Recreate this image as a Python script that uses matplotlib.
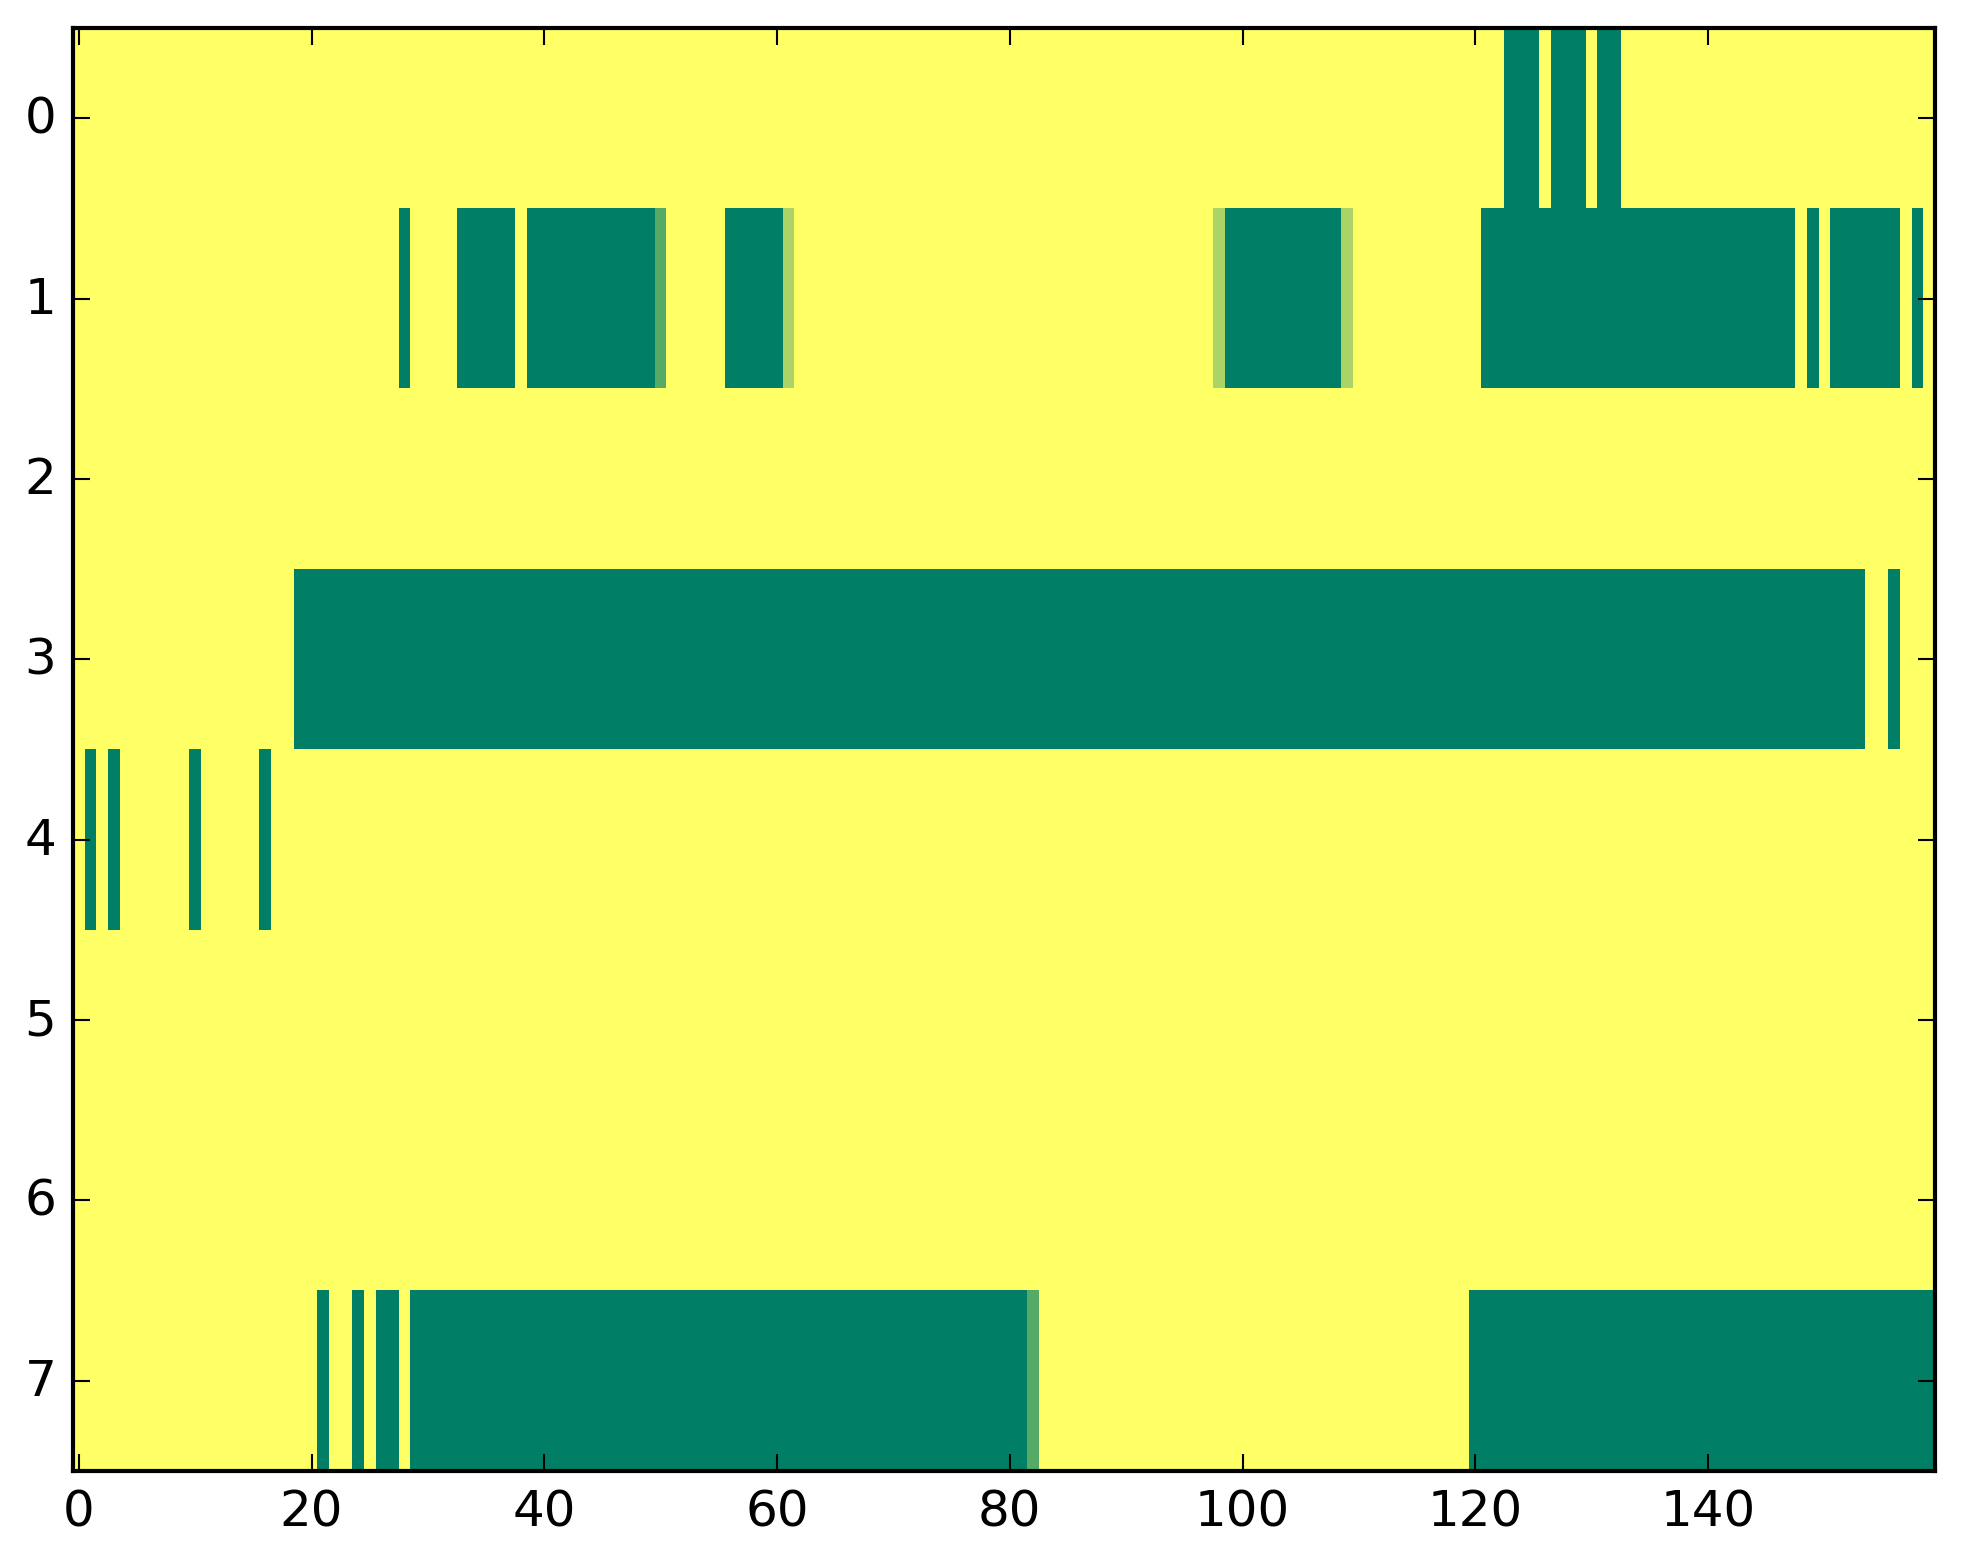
import matplotlib
matplotlib.use("Agg")
import matplotlib.pyplot as plt
import numpy as np

n_rows = 8
n_cols = 160

# runs of low (0) cells per row, inclusive column ranges
row0_runs = [(123, 125), (127, 129), (131, 132)]
row1_runs = [(28, 28), (33, 37), (39, 49), (56, 60), (99, 108),
             (121, 147), (149, 149), (151, 156), (158, 158)]
row2_runs = []
row3_runs = [(19, 153), (156, 156)]
row4_runs = [(1, 1), (3, 3), (10, 10), (16, 16)]
row5_runs = []
row6_runs = []
row7_runs = [(21, 21), (24, 24), (26, 27), (29, 81), (120, 159)]

# cells with in-between values (row, col, value)
partial_rows = [1, 1, 1, 1, 7]
partial_cols = [50, 61, 98, 109, 82]
partial_vals = [1/3, 2/3, 2/3, 2/3, 1/3]

all_runs = [row0_runs, row1_runs, row2_runs, row3_runs,
            row4_runs, row5_runs, row6_runs, row7_runs]

data = np.ones((n_rows, n_cols))
for r, runs in enumerate(all_runs):
    for a, b in runs:
        data[r, a:b + 1] = 0.0
for r, c, v in zip(partial_rows, partial_cols, partial_vals):
    data[r, c] = v

plt.style.use('classic')
fig = plt.figure(figsize=(1963 / 300, 1564 / 300), dpi=300)
ax = fig.add_axes([73 / 1963, 1 - 1472 / 1564, 1862 / 1963, 1443 / 1564])
ax.imshow(data, cmap='summer', aspect='auto', interpolation='nearest')
ax.set_xticks(np.arange(0, 141, 20))
ax.set_yticks(np.arange(0, 8))

fig.savefig("out.png", dpi=300)
